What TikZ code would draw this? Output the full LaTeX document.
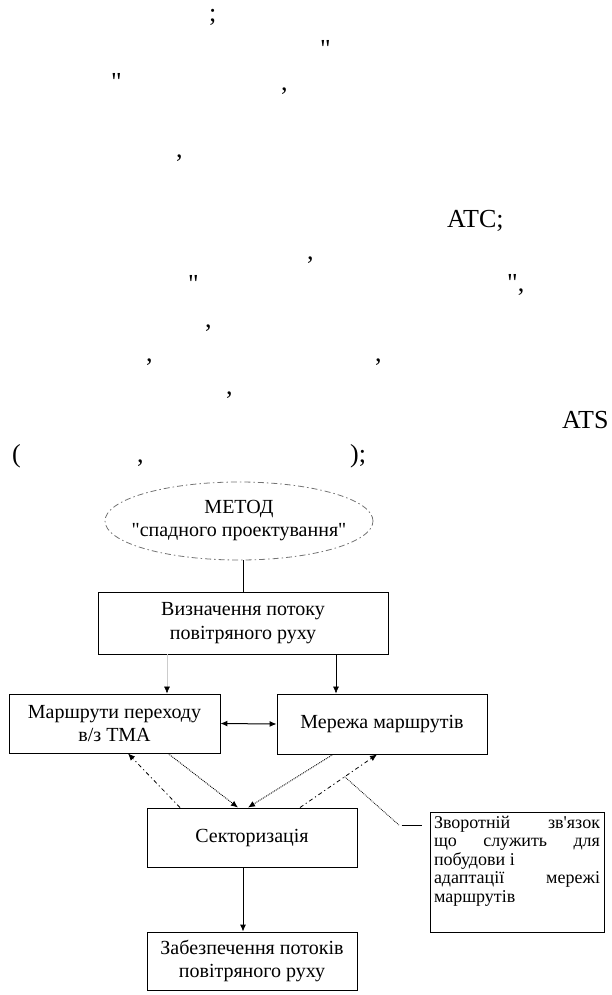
\documentclass[tikz,border=0pt]{standalone}
\usepackage{fontspec}
\setmainfont{Liberation Serif}[Ligatures=TeXOff]
\usetikzlibrary{arrows.meta,shapes.geometric}

\begin{document}
\begin{tikzpicture}[x=1pt, y=-1pt,
    frag/.style={inner sep=0pt, font=\fontsize{26}{30}\selectfont},
    blok/.style={draw, line width=0.9pt, align=center, inner sep=2pt,
                 font=\fontsize{20}{23.5}\selectfont},
    metod/.style={ellipse, draw=black!55, line width=0.8pt,
                  dash pattern=on 6pt off 3pt on 1.5pt off 3pt,
                  minimum width=268pt, minimum height=78pt,
                  inner xsep=-14pt, inner ysep=0pt,
                  align=center, font=\fontsize{20}{23}\selectfont},
    zvorotbox/.style={draw, line width=0.9pt, inner sep=4pt,
                      minimum width=174pt, minimum height=120pt,
                      font=\fontsize{18}{18.5}\selectfont},
    strilka/.style={-{Latex[length=7pt,width=6pt]}, line width=0.9pt},
    dvi/.style={{Latex[length=7pt,width=6pt]}-{Latex[length=7pt,width=6pt]}, line width=1pt},
    slabka/.style={-{Latex[length=7pt,width=6pt,black]}, draw=black!20, line width=0.6pt},
    zvyazok/.style={-{Latex[length=7pt,width=6pt]}, line width=0.8pt,
                    dash pattern=on 4pt off 3pt on 1.2pt off 3pt},
    tonka/.style={line width=0.8pt}
  ]
  \useasboundingbox (0,0) rectangle (612,995);

  % --- фрагменти тексту над схемою ---
  % \foreach <x>/<y>/<текст> : координати лінії шрифту
  \foreach \px/\py/\txt [count=\i] in {209/22/{;}, 320/58/{"}, 111/91/{"}, 281/91/{,},
      176/158/{,}, 447/227/{ATC;}, 307/259/{,}, 188/292/{"}, 507/291/{",},
      205/327/{,}, 146/361/{,}, 375/361/{,}, 226/394/{,}, 562/428/{ATS},
      12/462/{(}, 137/462/{,}, 350/462/{);}} {
    \node[frag, anchor=base west] (frag\i) at (\px,\py) {\txt};
  }

  % --- блоки схеми ---
  \node[metod] (metod) at (239,521) {МЕТОД\\"спадного проектування"};
  \node[blok, minimum width=290pt, minimum height=62pt] (vyzn) at (243,623)
    {Визначення потоку\\повітряного руху};
  \node[blok, minimum width=211pt, minimum height=59pt] (marshruty) at (114.5,723.5)
    {Маршрути переходу\\в/з ТМА};
  \node[blok, minimum width=210pt, minimum height=60pt] (merezha) at (382,724)
    {Мережа маршрутів};
  \node[blok, minimum width=210pt, minimum height=59pt] (sektor) at (252,837.5)
    {Секторизація};
  \node[blok, minimum width=210pt, minimum height=58pt] (zabezp) at (252,961)
    {Забезпечення потоків\\повітряного руху};
  \node[zvorotbox] (zvorot) at (517,872) {\parbox[c][112pt][t]{166pt}{%
    Зворотній\hfill зв'язок\\
    що\hfill служить\hfill для\\
    побудови і\\
    адаптації\hfill мережі\\
    маршрутів}};

  % --- зв'язки ---
  \draw[tonka] (metod.south -| vyzn.north) -- (vyzn.north);
  \coordinate (vyzn-r) at ([xshift=93pt]vyzn.south);
  \coordinate (vyzn-l) at ([xshift=-76pt]vyzn.south);
  \draw[strilka, line width=0.6pt] (vyzn-r) -- (vyzn-r |- merezha.north);
  \draw[slabka] (vyzn-l) -- (vyzn-l |- marshruty.north);
  \draw[dvi] (marshruty.east) -- (merezha.west);

  % маршрути -> секторизація
  \draw[strilka, densely dotted] ([xshift=53.5pt]marshruty.south) -- ([xshift=-14pt]sektor.north);
  \draw[strilka, densely dotted] ([xshift=-49pt]merezha.south) -- ([xshift=-4pt]sektor.north);

  % зворотний зв'язок
  \draw[zvyazok] ([xshift=-72pt]sektor.north) -- ([xshift=13.5pt]marshruty.south);
  \draw[zvyazok] ([xshift=48pt]sektor.north) -- coordinate[pos=0.58] (vidgal) ([xshift=-5pt]merezha.south);

  % вказівка на пояснення
  \coordinate (vkaz) at ([xshift=-8pt,yshift=-14pt]zvorot.north west);
  \draw[tonka, densely dotted] (vidgal) -- ([xshift=-22pt]vkaz);
  \draw[tonka] ([xshift=-20pt]vkaz) -- (vkaz);

  \coordinate (sektor-d) at ([xshift=-9pt]sektor.south);
  \draw[strilka] (sektor-d) -- (sektor-d |- zabezp.north);

\end{tikzpicture}
\end{document}
